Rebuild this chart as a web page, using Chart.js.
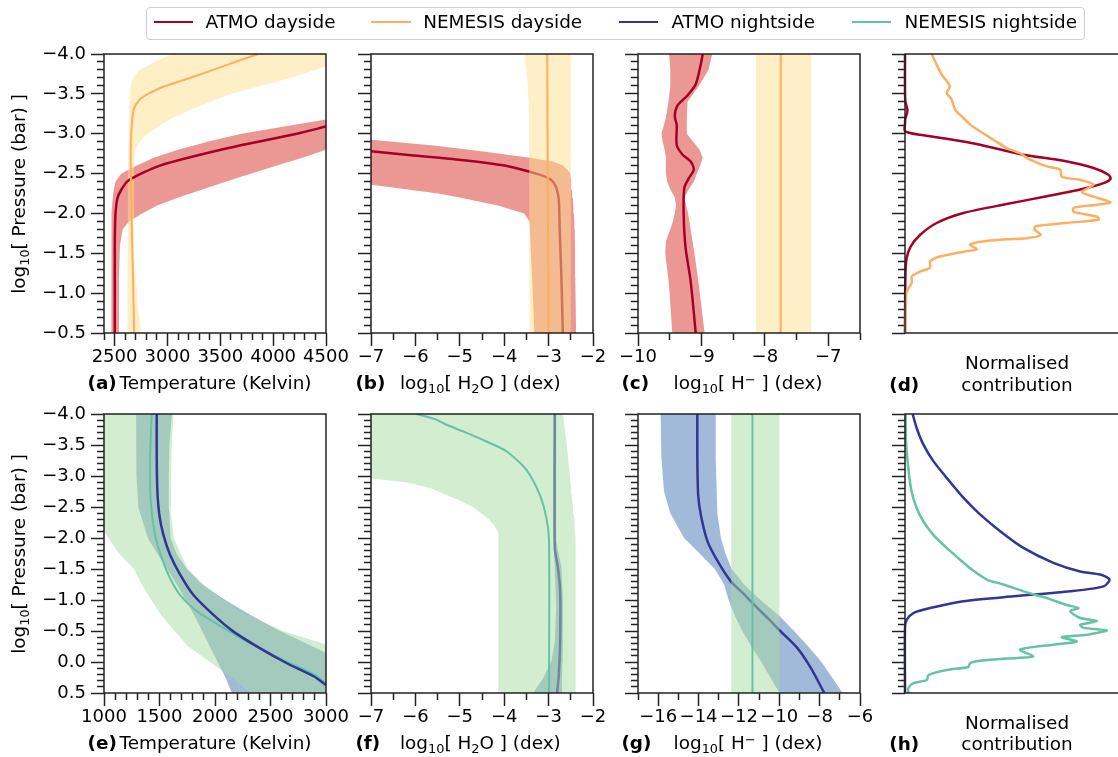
<!DOCTYPE html>
<html><head><meta charset="utf-8"><title>ATMO / NEMESIS profiles</title>
<script src="https://cdn.jsdelivr.net/npm/chart.js@4.4.1/dist/chart.umd.min.js"></script>
<style>
html,body{margin:0;padding:0;background:#fff;}
body{width:1118px;height:757px;overflow:hidden;position:relative;font-family:'DejaVu Sans',sans-serif;color:#000;}
canvas{position:absolute;}
.lbl{position:absolute;white-space:nowrap;font-size:18.4px;line-height:22px;}
.bold{font-weight:bold;}
.ctr{transform:translateX(-50%);}
.sb{font-size:0.7em;position:relative;top:0.28em;}
.sp{font-size:0.7em;position:relative;top:-0.45em;}
#legend{position:absolute;left:146px;top:7px;width:939px;height:33px;box-sizing:border-box;border:1px solid #cfcfcf;border-radius:4px;background:#fff;}
.lgline{position:absolute;height:2px;}
.ytitle{position:absolute;white-space:nowrap;font-size:18.4px;line-height:22px;transform:translate(-50%,-50%) rotate(-90deg);}
</style></head>
<body>
<div id="legend"></div>
<script>
// ---------------- DATA ----------------
const seriesNames = ['ATMO dayside', 'NEMESIS dayside', 'ATMO nightside', 'NEMESIS nightside'];

// tick labels
const yTicksTop = [-4.0, -3.5, -3.0, -2.5, -2.0, -1.5, -1.0, -0.5];
const yTicksBottom = [-4.0, -3.5, -3.0, -2.5, -2.0, -1.5, -1.0, -0.5, 0.0, 0.5];
const xTicksA = [2500, 3000, 3500, 4000, 4500];
const xTicksB = [-7, -6, -5, -4, -3, -2];
const xTicksC = [-10, -9, -8, -7];
const xTicksE = [1000, 1500, 2000, 2500, 3000];
const xTicksF = [-7, -6, -5, -4, -3, -2];
const xTicksG = [-16, -14, -12, -10, -8, -6];

// (a) temperature, dayside
const aAtmoDayT = [2502, 2502, 2508, 2527, 2565, 2628, 2929, 3577, 4224, 4500];
const aAtmoDayP = [-0.5, -1.57, -1.98, -2.19, -2.30, -2.41, -2.60, -2.82, -3.00, -3.09];
const aNemDayT = [2685, 2675, 2660, 2653, 2666, 2685, 2739, 2818, 2945, 3261, 3577, 3704, 3862];
const aNemDayP = [-0.5, -1.17, -1.98, -2.82, -3.16, -3.32, -3.43, -3.50, -3.58, -3.72, -3.87, -3.93, -4.0];
const aAtmoBandP = [-4.0, -3.4, -3.2, -3.0, -2.9, -2.8, -2.7, -2.6, -2.5, -2.4, -2.3, -2.2, -2.1, -2.0, -1.9, -1.8, -1.6, -1.2, -0.5];
const aAtmoBandLo = [6500, 5200, 4600, 3700, 3380, 3100, 2870, 2710, 2565, 2510, 2493, 2483, 2477, 2471, 2470, 2470, 2470, 2470, 2470];
const aAtmoBandHi = [7500, 5900, 5380, 4940, 4720, 4500, 4276, 4035, 3794, 3555, 3330, 3103, 2902, 2760, 2636, 2577, 2551, 2541, 2533];
const aNemBandP = [-4.0, -3.9, -3.8, -3.7, -3.6, -3.5, -3.4, -3.3, -3.2, -3.1, -3.0, -2.9, -2.8, -2.6, -2.0, -1.4, -0.8, -0.5];
const aNemBandLo = [3040, 2882, 2734, 2675, 2652, 2646, 2640, 2637, 2635, 2633, 2631, 2629, 2628, 2627, 2622, 2622, 2622, 2622];
const aNemBandHi = [4900, 4610, 4394, 4160, 3880, 3600, 3410, 3221, 3047, 2925, 2812, 2738, 2697, 2685, 2685, 2690, 2723, 2755];

// (b) H2O, dayside
const bAtmoDayX = [-7.0, -6.1, -4.97, -3.99, -3.47, -3.17, -2.94, -2.83, -2.77, -2.75, -2.71, -2.68];
const bAtmoDayP = [-2.78, -2.73, -2.67, -2.60, -2.53, -2.48, -2.42, -2.33, -2.17, -1.80, -1.17, -0.5];
const bNemDayX = [-3.03, -3.02, -3.0];
const bNemDayP = [-4.0, -2.5, -0.5];
const bAtmoBandP = [-4.0, -3.0, -2.95, -2.9, -2.85, -2.8, -2.75, -2.7, -2.65, -2.6, -2.55, -2.5, -2.45, -2.4, -2.35, -2.3, -2.25, -2.2, -2.1, -2.0, -1.9, -1.8, -1.5, -1.2, -0.5];
const bAtmoBandLo = [-30, -16, -15, -14.4, -13.7, -13.0, -12.4, -11.7, -11.0, -10.3, -9.6, -8.9, -8.24, -7.55, -6.86, -6.17, -5.49, -5.0, -4.14, -3.55, -3.43, -3.42, -3.40, -3.37, -3.32];
const bAtmoBandHi = [-28, -8.46, -7.49, -6.51, -5.54, -4.79, -4.09, -3.43, -2.90, -2.68, -2.58, -2.51, -2.50, -2.495, -2.49, -2.482, -2.47, -2.457, -2.443, -2.43, -2.42, -2.41, -2.405, -2.40, -2.38];
const bNemBandP = [-4.0, -3.66, -3.3, -2.8, -0.5];
const bNemBandLo = [-3.54, -3.48, -3.44, -3.43, -3.43];
const bNemBandHi = [-2.50, -2.50, -2.50, -2.50, -2.50];

// (c) H-, dayside
const cAtmoDayX = [-8.98, -9.01, -9.09, -9.22, -9.38, -9.42, -9.39, -9.39, -9.30, -9.17, -9.12, -9.20, -9.27, -9.28, -9.25, -9.17, -9.09];
const cAtmoDayP = [-4.0, -3.87, -3.62, -3.48, -3.35, -3.22, -3.11, -2.86, -2.74, -2.65, -2.55, -2.44, -2.32, -1.98, -1.57, -1.15, -0.5];
const cAtmoBandP = [-4.0, -3.8, -3.6, -3.4, -3.2, -3.0, -2.9, -2.8, -2.7, -2.6, -2.5, -2.4, -2.3, -2.2, -2.1, -2.0, -1.9, -1.8, -1.65, -1.5, -1.1, -0.5];
const cAtmoBandLo = [-9.51, -9.49, -9.49, -9.52, -9.56, -9.63, -9.61, -9.58, -9.56, -9.56, -9.56, -9.54, -9.49, -9.42, -9.40, -9.42, -9.45, -9.49, -9.56, -9.57, -9.51, -9.46];
const cAtmoBandHi = [-8.83, -8.89, -9.04, -9.22, -9.23, -9.23, -9.13, -9.03, -8.98, -9.02, -9.07, -9.12, -9.20, -9.27, -9.24, -9.21, -9.19, -9.17, -9.14, -9.11, -9.04, -8.95];
const cNemDayX = [-7.75, -7.75];
const cNemDayP = [-4.0, -0.5];
const cNemBandP = [-4.0, -0.5];
const cNemBandLo = [-8.14, -8.14];
const cNemBandHi = [-7.27, -7.27];

// (d) normalised contribution, dayside
const dAtmoX = [0, 0.001, 0.012, 0.001, 0, 0, 0.089, 0.203, 0.365, 0.576, 0.771, 0.917, 0.99, 1.0, 0.966, 0.852, 0.69, 0.495, 0.284, 0.154, 0.073, 0.028, 0.008, 0.002, 0];
const dAtmoP = [-4.0, -3.42, -3.29, -3.18, -3.12, -3.03, -2.98, -2.937, -2.862, -2.737, -2.66, -2.57, -2.486, -2.435, -2.38, -2.30, -2.215, -2.118, -2.005, -1.88, -1.73, -1.587, -1.44, -1.23, -0.5];
const dNemX = [0.13, 0.154, 0.179, 0.203, 0.219, 0.203, 0.227, 0.244, 0.284, 0.317, 0.365, 0.43, 0.495, 0.568, 0.593, 0.69, 0.755, 0.763, 0.852, 0.917, 0.86, 0.917, 1.0, 0.934, 0.82, 0.82, 0.934, 0.942, 0.78, 0.636, 0.63, 0.66, 0.593, 0.414, 0.317, 0.349, 0.284, 0.17, 0.122, 0.122, 0.073, 0.033, 0.033, 0.008, 0.005, 0.002, 0];
const dNemP = [-4.0, -3.866, -3.74, -3.66, -3.595, -3.51, -3.43, -3.30, -3.197, -3.114, -3.03, -2.925, -2.82, -2.745, -2.695, -2.59, -2.55, -2.46, -2.42, -2.36, -2.27, -2.21, -2.14, -2.11, -2.07, -2.02, -1.96, -1.92, -1.88, -1.84, -1.80, -1.73, -1.69, -1.66, -1.61, -1.55, -1.52, -1.46, -1.40, -1.32, -1.27, -1.21, -1.13, -1.02, -0.90, -0.73, -0.5];

// (e) temperature, nightside
const eAtmoNightT = [1475, 1475, 1481, 1499, 1535, 1595, 1686, 1806, 1986, 2167, 2407, 2648, 2889, 3000];
const eAtmoNightP = [-4.0, -3.29, -2.75, -2.37, -2.05, -1.73, -1.41, -1.08, -0.76, -0.49, -0.22, 0.02, 0.23, 0.37];
const eNemNightT = [1430, 1415, 1421, 1460, 1520, 1595, 1686, 1836, 2077, 2317, 2618, 2889, 3000];
const eNemNightP = [-4.0, -3.29, -2.59, -2.05, -1.68, -1.35, -1.08, -0.82, -0.55, -0.30, -0.03, 0.20, 0.34];
const eBandP = [-4.0, -3.5, -3.0, -2.5, -2.0, -1.75, -1.5, -1.25, -1.0, -0.75, -0.5, -0.25, 0.0, 0.25, 0.5];
const eAtmoBandLo = [1289, 1289, 1296, 1309, 1395, 1480, 1568, 1656, 1736, 1814, 1884, 1953, 2024, 2094, 2152];
const eAtmoBandHi = [1611, 1589, 1583, 1585, 1600, 1652, 1747, 1884, 2092, 2327, 2586, 2880, 3180, 3500, 3800];
const eNemBandLo = [500, 600, 700, 850, 1040, 1136, 1270, 1341, 1426, 1518, 1636, 1758, 1954, 2152, 2317];
const eNemBandHi = [1626, 1610, 1603, 1596, 1630, 1690, 1757, 1898, 2072, 2301, 2611, 3060, 3400, 3700, 4000];

// (f) H2O, nightside
const fNemNightX = [-5.98, -5.53, -5.31, -4.86, -4.41, -3.95, -3.50, -3.20, -3.05, -2.99, -2.99];
const fNemNightP = [-4.0, -3.91, -3.83, -3.70, -3.56, -3.40, -3.10, -2.70, -2.32, -1.95, 0.5];
const fAtmoNightX = [-2.86, -2.86, -2.79, -2.74, -2.74, -2.77, -2.81];
const fAtmoNightP = [-4.0, -1.84, -1.52, -1.14, -0.33, 0.21, 0.5];
const fNemBandP = [-4.0, -3.5, -3.0, -2.96, -2.9, -2.8, -2.7, -2.6, -2.5, -2.4, -2.3, -2.2, -2.1, -2.0, -1.5, -1.0, 0.0, 0.5];
const fNemBandLo = [-20, -14, -8.0, -7.0, -6.21, -5.64, -5.32, -4.99, -4.70, -4.52, -4.34, -4.22, -4.14, -4.13, -4.13, -4.13, -4.13, -4.13];
const fNemBandHi = [-2.68, -2.59, -2.52, -2.52, -2.51, -2.49, -2.48, -2.47, -2.45, -2.44, -2.42, -2.41, -2.41, -2.40, -2.39, -2.39, -2.39, -2.39];
const fAtmoBandP = [-4.0, -1.95, -1.52, -1.08, -0.87, -0.33, 0.0, 0.27, 0.5];
const fAtmoBandLo = [-2.89, -2.89, -2.86, -2.84, -2.83, -2.86, -2.94, -3.13, -3.35];
const fAtmoBandHi = [-2.83, -2.83, -2.71, -2.68, -2.68, -2.68, -2.69, -2.70, -2.71];

// (g) H-, nightside
const gAtmoNightX = [-14.06, -14.06, -14.02, -13.89, -13.56, -13.06, -12.40, -11.74, -11.24, -10.58, -9.92, -9.09, -8.43, -7.77];
const gAtmoNightP = [-4.0, -3.29, -2.70, -2.38, -1.95, -1.63, -1.30, -1.09, -0.92, -0.71, -0.49, -0.22, 0.10, 0.5];
const gAtmoBandP = [-4.0, -3.3, -2.75, -2.4, -2.0, -1.75, -1.5, -1.25, -1.0, -0.75, -0.5, -0.25, 0.0, 0.25, 0.5];
const gAtmoBandLo = [-15.88, -15.84, -15.71, -15.40, -14.72, -13.95, -13.19, -12.73, -12.51, -12.21, -11.83, -11.38, -10.89, -10.44, -9.99];
const gAtmoBandHi = [-13.15, -13.15, -13.10, -13.07, -12.89, -12.67, -12.36, -11.74, -10.93, -10.01, -9.27, -8.56, -7.91, -7.38, -6.86];
const gNemNightX = [-11.33, -11.33];
const gNemNightP = [-4.0, 0.5];
const gNemBandP = [-4.0, 0.5];
const gNemBandLo = [-12.38, -12.38];
const gNemBandHi = [-9.99, -9.99];

// (h) normalised contribution, nightside
const hAtmoX = [0.037, 0.057, 0.089, 0.138, 0.203, 0.284, 0.365, 0.463, 0.576, 0.722, 0.852, 0.950, 0.995, 0.966, 0.804, 0.528, 0.284, 0.122, 0.041, 0.008, 0, 0];
const hAtmoP = [-4.0, -3.77, -3.51, -3.24, -2.97, -2.65, -2.38, -2.11, -1.84, -1.60, -1.46, -1.41, -1.33, -1.22, -1.14, -1.06, -0.98, -0.87, -0.79, -0.68, -0.55, 0.5];
const hNemX = [0.003, 0.005, 0.016, 0.032, 0.057, 0.089, 0.138, 0.203, 0.268, 0.325, 0.398, 0.479, 0.576, 0.690, 0.787, 0.844, 0.804, 0.852, 0.934, 0.852, 0.868, 0.982, 0.885, 0.763, 0.836, 0.722, 0.560, 0.625, 0.560, 0.365, 0.316, 0.308, 0.203, 0.114, 0.106, 0.041, 0.016, 0.016];
const hNemP = [-4.0, -3.56, -3.13, -2.75, -2.48, -2.27, -2.05, -1.84, -1.65, -1.49, -1.33, -1.25, -1.14, -1.03, -0.92, -0.87, -0.82, -0.71, -0.66, -0.60, -0.55, -0.51, -0.44, -0.40, -0.33, -0.28, -0.20, -0.09, -0.07, -0.02, 0.02, 0.08, 0.13, 0.21, 0.29, 0.34, 0.42, 0.5];

// ---------------- STYLE / LAYOUT ----------------
const lineColors = ['#a50026', '#fdae61', '#313695', '#66c2a5'];
const bandColors = ['rgba(215,48,39,0.5)', 'rgba(254,224,144,0.5)', 'rgba(69,117,180,0.5)', 'rgba(166,219,160,0.5)'];
const lineWidths = [2.5, 2, 2.5, 2];
const colLeft = [104, 371, 638, 905];
const rowTop = [54, 414];
const PW = 222, PH = 279;
const MAJOR = 13, MINOR = 7;
const SPINE = '#222';

Chart.defaults.font.family = "'DejaVu Sans', sans-serif";
Chart.defaults.color = '#000';

function pts(xs, ys) { return xs.map((x, i) => ({x: x, y: ys[i]})); }
function lineDS(xs, ys, s, opts) {
  return Object.assign({data: pts(xs, ys), showLine: true, borderColor: lineColors[s], borderWidth: lineWidths[s],
    pointRadius: 0, pointHoverRadius: 0, fill: false, tension: 0.25, capBezierPoints: false, clip: 0}, opts || {});
}
function bandDS(ps, lo, hi, s) {
  const poly = pts(lo, ps).concat(pts(hi, ps).reverse());
  return {data: poly, showLine: true, borderWidth: 0, borderColor: 'rgba(0,0,0,0)', backgroundColor: bandColors[s],
    fill: 'shape', pointRadius: 0, pointHoverRadius: 0, tension: 0, clip: 0};
}
function buildTicks(min, max, step, majors) {
  const n = Math.round((max - min) / step), out = [];
  for (let k = 0; k <= n; k++) {
    const v = Math.round((min + k * step) * 1000) / 1000;
    out.push({value: v, isMajor: majors.some(m => Math.abs(m - v) < 1e-9)});
  }
  return out;
}
function fmt(v, dec) { return (v < -1e-9 ? '\u2212' : '') + Math.abs(v).toFixed(dec); }

const framePlugin = {
  id: 'frame',
  afterDatasetsDraw(chart) {
    const a = chart.chartArea, ctx = chart.ctx;
    ctx.save(); ctx.strokeStyle = SPINE; ctx.lineWidth = 1.5;
    ctx.strokeRect(a.left, a.top, a.right - a.left, a.bottom - a.top);
    ctx.restore();
  }
};

const panels = [
  {col: 0, row: 0, x: [2400, 4500, 100, xTicksA, 0], yLabels: true,
   layers: [bandDS(aAtmoBandP, aAtmoBandLo, aAtmoBandHi, 0), bandDS(aNemBandP, aNemBandLo, aNemBandHi, 1),
            lineDS(aAtmoDayT, aAtmoDayP, 0), lineDS(aNemDayT, aNemDayP, 1)]},
  {col: 1, row: 0, x: [-7, -2, 0.5, xTicksB, 0],
   layers: [bandDS(bAtmoBandP, bAtmoBandLo, bAtmoBandHi, 0), lineDS(bAtmoDayX, bAtmoDayP, 0),
            bandDS(bNemBandP, bNemBandLo, bNemBandHi, 1), lineDS(bNemDayX, bNemDayP, 1)]},
  {col: 2, row: 0, x: [-10, -6.5, 0.5, xTicksC, 0],
   layers: [bandDS(cAtmoBandP, cAtmoBandLo, cAtmoBandHi, 0), lineDS(cAtmoDayX, cAtmoDayP, 0),
            bandDS(cNemBandP, cNemBandLo, cNemBandHi, 1), lineDS(cNemDayX, cNemDayP, 1)]},
  {col: 3, row: 0, x: null,
   layers: [lineDS(dAtmoX, dAtmoP, 0, {borderWidth: 2.5, clip: 2}), lineDS(dNemX, dNemP, 1, {borderWidth: 2.5, clip: 2})]},
  {col: 0, row: 1, x: [1000, 3000, 100, xTicksE, 0], yLabels: true,
   layers: [bandDS(eBandP, eAtmoBandLo, eAtmoBandHi, 2), bandDS(eBandP, eNemBandLo, eNemBandHi, 3),
            lineDS(eNemNightT, eNemNightP, 3), lineDS(eAtmoNightT, eAtmoNightP, 2)]},
  {col: 1, row: 1, x: [-7, -2, 0.5, xTicksF, 0],
   layers: [bandDS(fAtmoBandP, fAtmoBandLo, fAtmoBandHi, 2), lineDS(fAtmoNightX, fAtmoNightP, 2),
            bandDS(fNemBandP, fNemBandLo, fNemBandHi, 3), lineDS(fNemNightX, fNemNightP, 3)]},
  {col: 2, row: 1, x: [-17, -6, 1, xTicksG, 0],
   layers: [bandDS(gAtmoBandP, gAtmoBandLo, gAtmoBandHi, 2), lineDS(gAtmoNightX, gAtmoNightP, 2),
            bandDS(gNemBandP, gNemBandLo, gNemBandHi, 3), lineDS(gNemNightX, gNemNightP, 3)]},
  {col: 3, row: 1, x: null,
   layers: [lineDS(hAtmoX, hAtmoP, 2, {borderWidth: 2.5, clip: 2}), lineDS(hNemX, hNemP, 3, {borderWidth: 2.5, clip: 2})]}
];

function makePanel(p) {
  const padL = 100, padT = 25, padR = 40, padB = 50;
  const L = colLeft[p.col], T = rowTop[p.row];
  const cv = document.createElement('canvas');
  cv.width = padL + PW + padR; cv.height = padT + PH + padB;
  cv.style.left = (L - padL) + 'px'; cv.style.top = (T - padT) + 'px';
  document.body.appendChild(cv);
  const yMin = -4, yMax = p.row === 0 ? -0.5 : 0.5;
  const yMaj = p.row === 0 ? yTicksTop : yTicksBottom;
  const n = p.layers.length;
  p.layers.forEach((d, i) => { d.order = n - i; });
  const xs = p.x ? {
    type: 'linear', position: 'bottom', min: p.x[0], max: p.x[1],
    afterBuildTicks: s => { s.ticks = buildTicks(p.x[0], p.x[1], p.x[2], p.x[3]); },
    afterFit: s => { s.height = padB; },
    border: {display: false},
    grid: {display: true, drawOnChartArea: false, drawTicks: true, tickLength: MAJOR, tickWidth: 1.5, tickColor: SPINE,
      tickBorderDash: c => (c.tick && c.tick.isMajor) ? [] : [MINOR, 100]},
    ticks: {autoSkip: false, maxRotation: 0, minRotation: 0, padding: 1, font: {size: 18}, color: '#000',
      callback: (v, i, t) => t[i].isMajor ? fmt(v, p.x[4]) : ''}
  } : {
    type: 'linear', position: 'bottom', min: 0, max: 1.08,
    afterFit: s => { s.height = padB; },
    border: {display: false}, grid: {display: false}, ticks: {display: false}
  };
  new Chart(cv.getContext('2d'), {
    type: 'scatter',
    data: {datasets: p.layers},
    options: {
      responsive: false, animation: false, events: [],
      layout: {autoPadding: false, padding: {left: 0, top: padT, right: padR, bottom: 0}},
      plugins: {legend: {display: false}, tooltip: {enabled: false}},
      scales: {
        x: xs,
        y: {
          type: 'linear', position: 'left', reverse: true, min: yMin, max: yMax,
          afterBuildTicks: s => { s.ticks = buildTicks(yMin, yMax, 0.1, yMaj); },
          afterFit: s => { s.width = padL; },
          border: {display: false},
          grid: {display: true, drawOnChartArea: false, drawTicks: true, tickLength: MAJOR, tickWidth: 1.5, tickColor: SPINE,
            tickBorderDash: c => (c.tick && c.tick.isMajor) ? [] : [0, MAJOR - MINOR, MINOR, 100]},
          ticks: {autoSkip: false, padding: 5, font: {size: 18}, color: '#000',
            callback: (v, i, t) => (p.yLabels && t[i].isMajor) ? fmt(v, 1) : ''}
        }
      }
    },
    plugins: [framePlugin]
  });
}
panels.forEach(makePanel);

// ---------------- TEXT ----------------
function addNode(parts, x, yc, cls) {
  const d = document.createElement('div');
  d.className = 'lbl ' + (cls || '');
  parts.forEach(pt => {
    if (typeof pt === 'string') { d.appendChild(document.createTextNode(pt)); }
    else { const s = document.createElement('span'); s.className = pt[0]; s.textContent = pt[1]; d.appendChild(s); }
  });
  d.style.left = x + 'px'; d.style.top = (yc - 11) + 'px';
  document.body.appendChild(d);
  return d;
}
const tTemp = ['Temperature (Kelvin)'];
const tH2O = ['log', ['sb', '10'], '[ H', ['sb', '2'], 'O ] (dex)'];
const tHm = ['log', ['sb', '10'], '[ H', ['sp', '\u2212'], ' ] (dex)'];
const xTitles = [
  ['(a)', tTemp, 87.5, 119.6], ['(b)', tH2O, 355.4, 400], ['(c)', tHm, 621.4, 673.6],
  ['(e)', tTemp, 87.5, 119.6], ['(f)', tH2O, 355.4, 400], ['(g)', tHm, 621.4, 673.6]
];
xTitles.forEach((t, i) => {
  const yc = i < 3 ? 383.3 : 743.3;
  addNode([t[0]], t[2], yc, 'bold');
  addNode(t[1], t[3], yc);
});
[['(d)', 363.3, 385], ['(h)', 723.3, 744]].forEach(r => {
  addNode([r[0]], 889.3, r[2], 'bold');
  addNode(['Normalised'], 1017, r[1], 'ctr');
  addNode(['contribution'], 1017, r[2], 'ctr');
});
[193.5, 553.5].forEach(yc => {
  const d = addNode(['log', ['sb', '10'], '[ Pressure (bar) ]'], 20, yc, '');
  d.className = 'ytitle';
  d.style.top = yc + 'px';
});

// legend
const lgLineX = [153.6, 371.4, 618.9, 852.1];
const lgTextX = [205.4, 423.2, 671.4, 904.6];
seriesNames.forEach((name, i) => {
  const l = document.createElement('div');
  l.className = 'lgline';
  l.style.left = lgLineX[i] + 'px'; l.style.top = '21px'; l.style.width = '39.3px';
  l.style.background = lineColors[i];
  document.body.appendChild(l);
  addNode([name], lgTextX[i], 22);
});
</script>
</body></html>
